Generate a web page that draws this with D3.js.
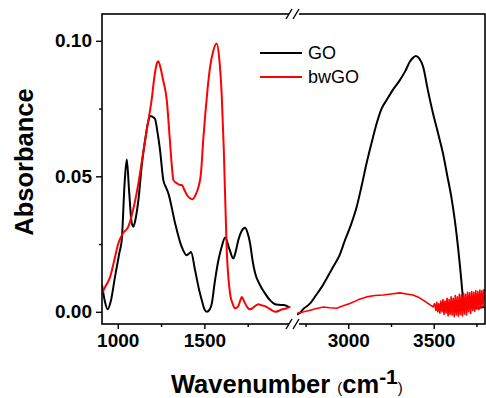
<!DOCTYPE html>
<html>
<head>
<meta charset="utf-8">
<script src="https://cdn.jsdelivr.net/npm/d3@7"></script>
<style>
  html, body { margin: 0; padding: 0; background: #fff; }
  svg { display: block; }
</style>
</head>
<body>
<div id="chart"></div>
<script>
// wavenumber (cm-1) / absorbance pairs
const goLow = [
  [909, 0.0099], [925, 0.004], [942, 0.0009], [960, 0.004], [984, 0.0129], [1010, 0.022],
  [1023, 0.0265], [1040, 0.048], [1052, 0.0562], [1065, 0.045], [1080, 0.033], [1090, 0.0314],
  [1105, 0.035], [1119, 0.0412], [1140, 0.055], [1158, 0.0634], [1175, 0.070], [1190, 0.0723],
  [1205, 0.0718], [1215, 0.0712], [1230, 0.066], [1244, 0.0597], [1263, 0.0486], [1278, 0.046],
  [1292, 0.0437], [1331, 0.0327], [1369, 0.024], [1398, 0.0209], [1412, 0.0215], [1423, 0.0221],
  [1446, 0.0154], [1470, 0.008], [1485, 0.0043], [1500, 0.001], [1514, 0.0], [1530, 0.0008],
  [1543, 0.0031], [1560, 0.011], [1581, 0.019], [1600, 0.024], [1620, 0.0274], [1645, 0.023],
  [1667, 0.0197], [1680, 0.022], [1696, 0.0265], [1715, 0.0298], [1735, 0.031], [1750, 0.029],
  [1764, 0.0252], [1778, 0.019], [1793, 0.0142], [1820, 0.010], [1850, 0.0068], [1880, 0.0042],
  [1908, 0.0028], [1930, 0.0026], [1956, 0.0025], [1975, 0.0022], [1995, 0.0016]
];
const goHigh = [
  [2700, -0.001], [2708, -0.0008], [2740, 0.0012], [2777, 0.0031], [2810, 0.006], [2845, 0.0092],
  [2880, 0.013], [2912, 0.0166], [2950, 0.021], [2981, 0.0265], [3015, 0.032], [3049, 0.0387],
  [3080, 0.047], [3107, 0.0548], [3135, 0.062], [3166, 0.0695], [3195, 0.075], [3224, 0.0781],
  [3262, 0.082], [3302, 0.0855], [3335, 0.089], [3360, 0.0923], [3380, 0.0938], [3395, 0.0944],
  [3415, 0.0935], [3438, 0.0904], [3465, 0.082], [3496, 0.0732], [3525, 0.066], [3554, 0.0585],
  [3580, 0.050], [3603, 0.0424], [3625, 0.033], [3642, 0.024], [3658, 0.014], [3671, 0.0055],
  [3681, 0.0028], [3691, 0.0018], [3720, 0.0016], [3749, 0.0013], [3775, 0.0016], [3798, 0.0018]
];
const bwLow = [
  [909, 0.0068], [930, 0.0095], [956, 0.0129], [980, 0.019], [1003, 0.0252], [1030, 0.029],
  [1061, 0.0314], [1090, 0.038], [1119, 0.0474], [1145, 0.058], [1165, 0.066], [1177, 0.0707],
  [1195, 0.078], [1212, 0.087], [1225, 0.0915], [1234, 0.0925], [1245, 0.0905], [1260, 0.086],
  [1283, 0.078], [1300, 0.064], [1312, 0.054], [1321, 0.0486], [1340, 0.0475], [1360, 0.0468],
  [1369, 0.0468], [1388, 0.0445], [1408, 0.0424], [1420, 0.0418], [1431, 0.0415], [1448, 0.043],
  [1466, 0.0461], [1480, 0.051], [1494, 0.0640], [1504, 0.072], [1518, 0.082], [1533, 0.0904],
  [1550, 0.096], [1571, 0.099], [1585, 0.094], [1600, 0.080], [1612, 0.060], [1629, 0.0228],
  [1648, 0.0068], [1663, 0.003], [1677, 0.0013], [1695, 0.002], [1706, 0.004], [1716, 0.0055],
  [1725, 0.0045], [1735, 0.0031], [1750, 0.0015], [1764, 0.0009], [1790, 0.002], [1812, 0.0028],
  [1830, 0.0024], [1850, 0.0021], [1880, 0.001], [1908, 0.0], [1930, 0.0004], [1947, 0.0009],
  [1970, 0.0012], [1995, 0.0018]
];
const bwHigh = [
  [2699, -0.0006], [2740, 0.0], [2777, 0.0006], [2815, 0.0012], [2854, 0.0018], [2890, 0.0015],
  [2932, 0.0013], [2970, 0.0022], [3010, 0.0031], [3060, 0.0045], [3107, 0.0055], [3155, 0.006],
  [3204, 0.0062], [3250, 0.0066], [3302, 0.007], [3340, 0.0066], [3379, 0.0062], [3410, 0.0054],
  [3438, 0.0043], [3468, 0.003], [3496, 0.0018], [3505, 0.003], [3512, 0.0005], [3518, 0.0035],
  [3524, 0.0], [3530, 0.003], [3536, -0.0005], [3542, 0.004], [3548, 0.0], [3554, 0.0045],
  [3560, -0.001], [3566, 0.004], [3572, -0.0005], [3578, 0.005], [3584, -0.0015], [3590, 0.0045],
  [3596, -0.001], [3602, 0.0055], [3608, -0.0012], [3614, 0.005], [3620, -0.0018], [3626, 0.006],
  [3632, -0.0012], [3638, 0.0055], [3644, -0.0016], [3650, 0.0065], [3656, -0.001], [3662, 0.0062],
  [3668, -0.0015], [3674, 0.0068], [3680, -0.0008], [3686, 0.0065], [3692, -0.0012], [3698, 0.0072],
  [3704, 0.0], [3710, 0.007], [3716, -0.0006], [3722, 0.0075], [3728, 0.0005], [3734, 0.0072],
  [3740, 0.0002], [3746, 0.0078], [3752, 0.001], [3758, 0.0075], [3764, 0.0008], [3770, 0.008],
  [3776, 0.0015], [3782, 0.0078], [3788, 0.002], [3794, 0.0082], [3800, 0.0045]
];

const xMajorLow = [1000, 1500];
const xMinorLow = [1250, 1750];
const xMajorHigh = [3000, 3500];
const xMinorHigh = [2750, 3250, 3750];
const yMajor = [0, 0.05, 0.10];
const yMinor = [0.025, 0.075];

const seriesNames = ['GO', 'bwGO'];
const seriesColors = ['#000000', '#ff0000'];

const W = 486, H = 398;
const pLeft = 102, pRight = 485, pTop = 14, pBottom = 324;
const breakL = 291, breakR = 297;
const font = 'Arial, "Liberation Sans", Helvetica, sans-serif';

const svg = d3.select('#chart').append('svg')
  .attr('width', W).attr('height', H);

const xLow = d3.scaleLinear().domain([909, 2000]).range([pLeft, breakL]);
const xHigh = d3.scaleLinear().domain([2700, 3800]).range([breakR, pRight]);
const y = d3.scaleLinear().domain([-0.0045, 0.1099]).range([pBottom, pTop]);

// one clip per axis segment
svg.append('clipPath').attr('id', 'clipLow')
  .append('rect').attr('x', pLeft).attr('y', pTop).attr('width', breakL - pLeft).attr('height', pBottom - pTop);
svg.append('clipPath').attr('id', 'clipHigh')
  .append('rect').attr('x', breakR).attr('y', pTop).attr('width', pRight - breakR).attr('height', pBottom - pTop);

const lineLow = d3.line().x(d => xLow(d[0])).y(d => y(d[1])).curve(d3.curveMonotoneX);
const lineHighSmooth = d3.line().x(d => xHigh(d[0])).y(d => y(d[1])).curve(d3.curveMonotoneX);
const lineHighRaw = d3.line().x(d => xHigh(d[0])).y(d => y(d[1]));

const gLow = svg.append('g').attr('clip-path', 'url(#clipLow)');
const gHigh = svg.append('g').attr('clip-path', 'url(#clipHigh)');

const segments = [[goLow, goHigh], [bwLow, bwHigh]];
segments.forEach((pair, i) => {
  gLow.append('path').datum(pair[0])
    .attr('d', lineLow)
    .attr('fill', 'none').attr('stroke', seriesColors[i]).attr('stroke-width', 2)
    .attr('stroke-linejoin', 'round');
  gHigh.append('path').datum(pair[1])
    .attr('d', i === 1 ? lineHighRaw : lineHighSmooth)
    .attr('fill', 'none').attr('stroke', seriesColors[i]).attr('stroke-width', i === 1 ? 1.6 : 2)
    .attr('stroke-linejoin', 'round');
});

// frame
svg.append('rect')
  .attr('x', pLeft).attr('y', pTop)
  .attr('width', pRight - pLeft).attr('height', pBottom - pTop)
  .attr('fill', 'none').attr('stroke', '#000').attr('stroke-width', 1.6);

// break marks on top and bottom axes
[pTop, pBottom].forEach(yy => {
  svg.append('rect')
    .attr('x', breakL - 2).attr('y', yy - 3)
    .attr('width', breakR - breakL + 4).attr('height', 6)
    .attr('fill', '#fff');
  [breakL - 2, breakR - 1].forEach(xx => {
    svg.append('line')
      .attr('x1', xx - 3).attr('y1', yy + 5)
      .attr('x2', xx + 3).attr('y2', yy - 5)
      .attr('stroke', '#000').attr('stroke-width', 1.4);
  });
});

function styleAxis(g) {
  g.select('.domain').remove();
  g.selectAll('.tick line').attr('stroke', '#000').attr('stroke-width', 1.4);
  g.selectAll('.tick text')
    .attr('font-family', font).attr('font-size', 19).attr('font-weight', 'bold').attr('fill', '#000');
}

// x axes
svg.append('g').attr('transform', `translate(0,${pBottom})`)
  .call(d3.axisBottom(xLow).tickValues(xMajorLow).tickSize(5).tickPadding(5).tickFormat(d3.format('d')))
  .call(styleAxis);
svg.append('g').attr('transform', `translate(0,${pBottom})`)
  .call(d3.axisBottom(xLow).tickValues(xMinorLow).tickSize(3).tickFormat(''))
  .call(styleAxis);
svg.append('g').attr('transform', `translate(0,${pBottom})`)
  .call(d3.axisBottom(xHigh).tickValues(xMajorHigh).tickSize(5).tickPadding(5).tickFormat(d3.format('d')))
  .call(styleAxis);
svg.append('g').attr('transform', `translate(0,${pBottom})`)
  .call(d3.axisBottom(xHigh).tickValues(xMinorHigh).tickSize(3).tickFormat(''))
  .call(styleAxis);

// y axis
svg.append('g').attr('transform', `translate(${pLeft},0)`)
  .call(d3.axisLeft(y).tickValues(yMajor).tickSize(6).tickPadding(4).tickFormat(d3.format('.2f')))
  .call(styleAxis);
svg.append('g').attr('transform', `translate(${pLeft},0)`)
  .call(d3.axisLeft(y).tickValues(yMinor).tickSize(3).tickFormat(''))
  .call(styleAxis);

// axis titles
svg.append('text')
  .attr('transform', 'translate(33,162) rotate(-90)')
  .attr('text-anchor', 'middle')
  .attr('font-family', font).attr('font-size', 25.5).attr('font-weight', 'bold')
  .text('Absorbance');

const xt = svg.append('text')
  .attr('x', 171).attr('y', 393)
  .attr('font-family', font).attr('font-weight', 'bold').attr('font-size', 25.5);
xt.append('tspan').text('Wavenumber ');
xt.append('tspan').attr('font-size', 15).attr('font-weight', 'normal').text('(');
xt.append('tspan').text('cm');
xt.append('tspan').attr('font-size', 21).attr('dy', -9).text('-1');
xt.append('tspan').attr('font-size', 15).attr('font-weight', 'normal').attr('dy', 9).text(')');

// legend
const legend = svg.append('g');
seriesNames.forEach((name, i) => {
  const ly = 53 + i * 24;
  legend.append('line')
    .attr('x1', 260).attr('x2', 302).attr('y1', ly).attr('y2', ly)
    .attr('stroke', seriesColors[i]).attr('stroke-width', 2);
  legend.append('text')
    .attr('x', 308).attr('y', ly).attr('dy', '0.36em')
    .attr('font-family', font).attr('font-size', 18)
    .text(name);
});
</script>
</body>
</html>
